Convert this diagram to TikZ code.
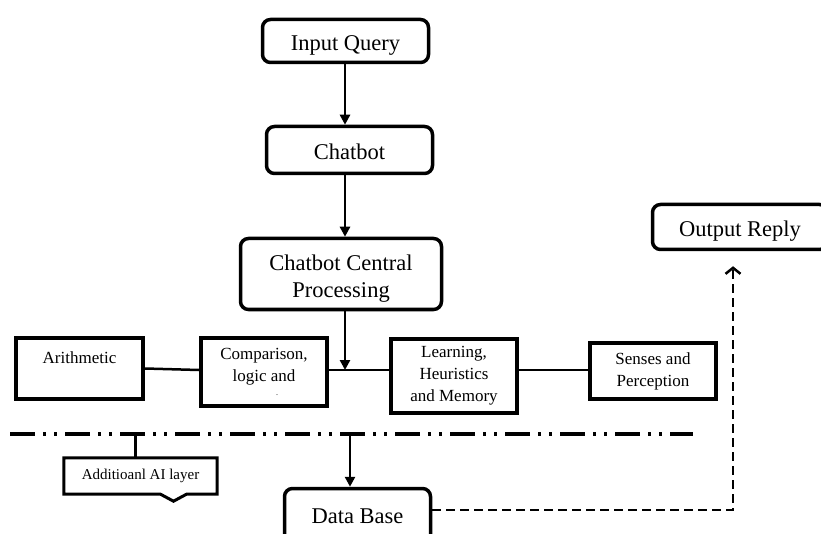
\documentclass[tikz,border=0pt]{standalone}
\usepackage{fontspec}
\setmainfont{Liberation Serif}
\usetikzlibrary{arrows.meta}
\begin{document}
\begin{tikzpicture}[x=1pt,y=-1pt,
  big/.style={draw, line width=3.5pt, rounded corners=8pt, inner sep=0pt, align=center,
    font=\fontsize{22.5}{27}\selectfont},
  low/.style={text height=21pt, text depth=1pt},
  small/.style={draw, line width=4pt, inner sep=0pt, align=center,
    font=\fontsize{17}{22}\selectfont},
  label/.style={inner sep=0pt, align=center},
  conn/.style={line width=2.5pt},
  arr/.style={conn, -{Triangle[length=10pt,width=10pt]}},
  dsh/.style={line width=2.5pt, dash pattern=on 9pt off 5pt,
    -{Straight Barb[length=6pt,width=15pt,line width=2.5pt]}},
  dashdotdot/.style={line width=4pt, dash pattern=on 25pt off 8pt on 3pt off 8pt on 3pt off 8pt},
]
\useasboundingbox (0,0) rectangle (821,534);

% top column
\node[big, low, minimum width=166pt, minimum height=43pt] (iq) at (345.5,41) {Input Query};
\node[big, low, minimum width=166pt, minimum height=47pt] (cb) at (349.5,150) {Chatbot};
\node[big, minimum width=201pt, minimum height=71pt] (ccp) at (341,274) {};
\node[label, font=\fontsize{22.5}{27}\selectfont] (ccpt) at (341,279) {Chatbot Central\\Processing};
\node[big, low, minimum width=175pt, minimum height=45pt] (out) at (740,227) {Output Reply};

\draw[arr] (iq.south -| 345,0) -- (cb.north -| 345,0);
\draw[arr] (cb.south -| 345,0) -- (ccp.north -| 345,0);

% bus
\coordinate (bus) at (345,370);
\node[small, minimum width=127pt, minimum height=61pt] (arith) at (79.5,368.5) {Arithmetic\\\phantom{X}};
\node[small, minimum width=126pt, minimum height=68pt] (comp) at (264,372) {};
\node[label, font=\fontsize{17}{22}\selectfont] (compt) at (264,367) {Comparison,\\logic and};
\node[label, font=\fontsize{8}{8}\selectfont] (compdot) at (277,395) {.};
\node[small, minimum width=126pt, minimum height=74pt] (learn) at (454,376) {Learning,\\Heuristics\\and Memory};
\node[small, minimum width=126pt, minimum height=56pt] (sense) at (653,371) {Senses and\\Perception};

\draw[arr] (ccp.south -| bus) -- (bus);
\draw[conn] (arith.east) -- (comp.west |- bus);
\draw[conn] (comp.east |- bus) -- (learn.west |- bus);
\draw[conn] (learn.east |- bus) -- (sense.west |- bus);

% layer line
\coordinate (dl) at (10,434);
\coordinate (dr) at (693,434);
\draw[dashdotdot] (dl) -- (dr);

% additional AI layer
\node[inner sep=0pt, minimum width=153pt, minimum height=36pt,
  font=\fontsize{15}{18}\selectfont] (ai) at (140.5,476) {Additioanl AI layer};
\draw[line width=3pt, line join=miter]
  ([xshift=20pt]ai.south) -- (ai.south west) -- (ai.north west) -- (ai.north east)
  -- (ai.south east) -- ([xshift=46pt]ai.south) -- ([xshift=33pt,yshift=-7pt]ai.south)
  -- ([xshift=20pt]ai.south) -- cycle;
\coordinate (aitop) at (135,434);
\draw[line width=3pt] (aitop) -- (aitop |- ai.north);

% data base
\node[big, minimum width=146pt, minimum height=55pt] (db) at (357.5,516) {Data Base};
\coordinate (dbtop) at (350,434);
\draw[arr] (dbtop) -- (dbtop |- db.north);

% output path
\coordinate (corner) at (733,510);
\draw[dsh, shorten >=15pt] (db.east |- corner) -- (corner) -- (corner |- out.south);
\end{tikzpicture}
\end{document}
